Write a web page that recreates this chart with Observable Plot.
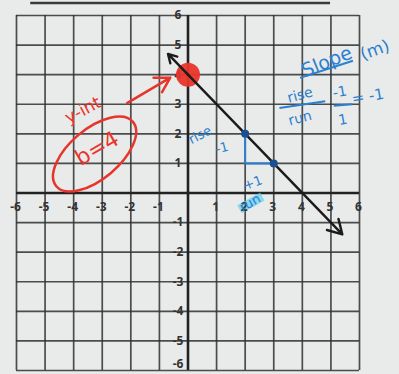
<!DOCTYPE html>
<html>
<head>
<meta charset="utf-8">
<script src="https://cdn.jsdelivr.net/npm/d3@7"></script>
<script src="https://cdn.jsdelivr.net/npm/@observablehq/plot@0.6"></script>
<style>
  html, body { margin: 0; padding: 0; background: #e9ebea; }
  svg { display: block; }
</style>
</head>
<body>
<div id="chart"></div>
<script>
// grid / ticks
const gridValues = [-6, -5, -4, -3, -2, -1, 0, 1, 2, 3, 4, 5, 6];
const tickLabels = [-6, -5, -4, -3, -2, -1, 1, 2, 3, 4, 5, 6];

// the drawn line y = -x + 4 (arrow ends)
const lineStart = {x: 0, y: 4};
const lineEnds = [{x: -0.7, y: 4.7}, {x: 5.4, y: -1.4}];

// y-intercept
const interceptX = [0];
const interceptY = [4];

// slope points and rise/run triangle
const slopeX = [2, 3];
const slopeY = [2, 1];
const triangleX = [2, 2, 3];
const triangleY = [2, 1, 1];

// red annotations
const redTexts = [
  {x: -3.67, y: 2.8, text: "y-int", size: 17, rotate: -28},
  {x: -3.18, y: 1.5, text: "b=4", size: 22, rotate: -30}
];
const redArrow = [{x1: -2.13, y1: 3.04, x2: -0.62, y2: 3.9}];
const redEllipse = {x: -3.25, y: 1.3, rx: 50, ry: 25, rotate: -40};

// blue annotations
const blueTexts = [
  {x: 4.86, y: 4.43, text: "Slope", size: 19, rotate: -22},
  {x: 6.54, y: 4.83, text: "(m)", size: 17, rotate: -20},
  {x: 3.92, y: 3.31, text: "rise", size: 14, rotate: -15},
  {x: 3.92, y: 2.53, text: "run", size: 14, rotate: -15},
  {x: 5.31, y: 3.41, text: "-1", size: 14, rotate: -10},
  {x: 5.42, y: 2.47, text: "1", size: 14, rotate: -10},
  {x: 6.29, y: 3.26, text: "= -1", size: 15, rotate: -10},
  {x: 0.42, y: 1.96, text: "rise", size: 13, rotate: -28},
  {x: 1.19, y: 1.52, text: "-1", size: 13, rotate: -15},
  {x: 2.27, y: 0.34, text: "+1", size: 13, rotate: -20},
  {x: 2.17, y: -0.34, text: "run", size: 13, rotate: -30}
];
const blueRules = [
  {x1: 3.92, y1: 3.89, x2: 5.77, y2: 4.47},
  {x1: 3.2, y1: 2.87, x2: 4.8, y2: 3.1},
  {x1: 5.1, y1: 2.95, x2: 5.75, y2: 3.0}
];
const highlight = [{x1: 1.8, y1: -0.55, x2: 2.6, y2: -0.12}];

// header line on the page above the grid
const header = [{x1: -5.52, x2: 4.97, y: 6.42}];

const ink = "#2f3030";
const red = "#e8352b";
const blue = "#2a7fd0";

const chart = Plot.plot({
  width: 399,
  height: 374,
  marginLeft: 16,
  marginRight: 40,
  marginTop: 15,
  marginBottom: 4,
  x: {domain: [-6, 6], axis: null},
  y: {domain: [-6, 6], axis: null},
  style: {background: "#e9ebea", overflow: "visible"},
  marks: [
    Plot.link(header, {x1: "x1", x2: "x2", y1: "y", y2: "y", stroke: "#3a3a3a", strokeWidth: 2.5}),
    Plot.ruleX(gridValues, {y1: -6, y2: 6, stroke: ink, strokeWidth: 1.7, strokeOpacity: 0.85}),
    Plot.ruleY(gridValues, {x1: -6, x2: 6, stroke: ink, strokeWidth: 1.7, strokeOpacity: 0.85}),
    Plot.ruleX([0], {y1: -6, y2: 6, stroke: "#222", strokeWidth: 2.6}),
    Plot.ruleY([0], {x1: -6, x2: 6, stroke: "#222", strokeWidth: 2.6}),
    Plot.link(highlight, {x1: "x1", y1: "y1", x2: "x2", y2: "y2", stroke: "#5fd0f0", strokeWidth: 9, strokeOpacity: 0.7}),
    Plot.text(tickLabels, {x: d => d, y: -0.47, text: d => String(d), fontSize: 12, fontWeight: "bold", fill: "#333", dx: -1}),
    Plot.text(tickLabels, {x: -0.35, y: d => d === -6 ? -5.78 : d, text: d => String(d), fontSize: 12, fontWeight: "bold", fill: "#333"}),
    Plot.dot(interceptX.map((x, i) => ({x, y: interceptY[i]})), {x: "x", y: "y", r: 12, fill: red, fillOpacity: 0.95}),
    Plot.arrow(lineEnds, {x1: () => lineStart.x, y1: () => lineStart.y, x2: "x", y2: "y", stroke: "#1b1b1b", strokeWidth: 2.4, headLength: 10}),
    Plot.line(triangleX.map((x, i) => ({x, y: triangleY[i]})), {x: "x", y: "y", stroke: blue, strokeWidth: 2}),
    Plot.dot(slopeX.map((x, i) => ({x, y: slopeY[i]})), {x: "x", y: "y", r: 4, fill: "#1c4f8f"}),
    Plot.arrow(redArrow, {x1: "x1", y1: "y1", x2: "x2", y2: "y2", stroke: red, strokeWidth: 2.5, headLength: 12}),
    Plot.text(redTexts, {x: "x", y: "y", text: "text", fontSize: "size", rotate: "rotate", fill: red, fontFamily: "DejaVu Sans"}),
    Plot.link(blueRules, {x1: "x1", y1: "y1", x2: "x2", y2: "y2", stroke: blue, strokeWidth: 2}),
    Plot.text(blueTexts, {x: "x", y: "y", text: "text", fontSize: "size", rotate: "rotate", fill: blue, fontFamily: "DejaVu Sans"})
  ]
});

// red ellipse around "b=4", positioned with the plot's own scales
const sx = chart.scale("x"), sy = chart.scale("y");
const cx = sx.apply(redEllipse.x), cy = sy.apply(redEllipse.y);
d3.select(chart).append("ellipse")
  .attr("cx", cx).attr("cy", cy)
  .attr("rx", redEllipse.rx).attr("ry", redEllipse.ry)
  .attr("transform", `rotate(${redEllipse.rotate},${cx},${cy})`)
  .attr("fill", "none").attr("stroke", red).attr("stroke-width", 2.5);

document.getElementById("chart").appendChild(chart);
</script>
</body>
</html>
